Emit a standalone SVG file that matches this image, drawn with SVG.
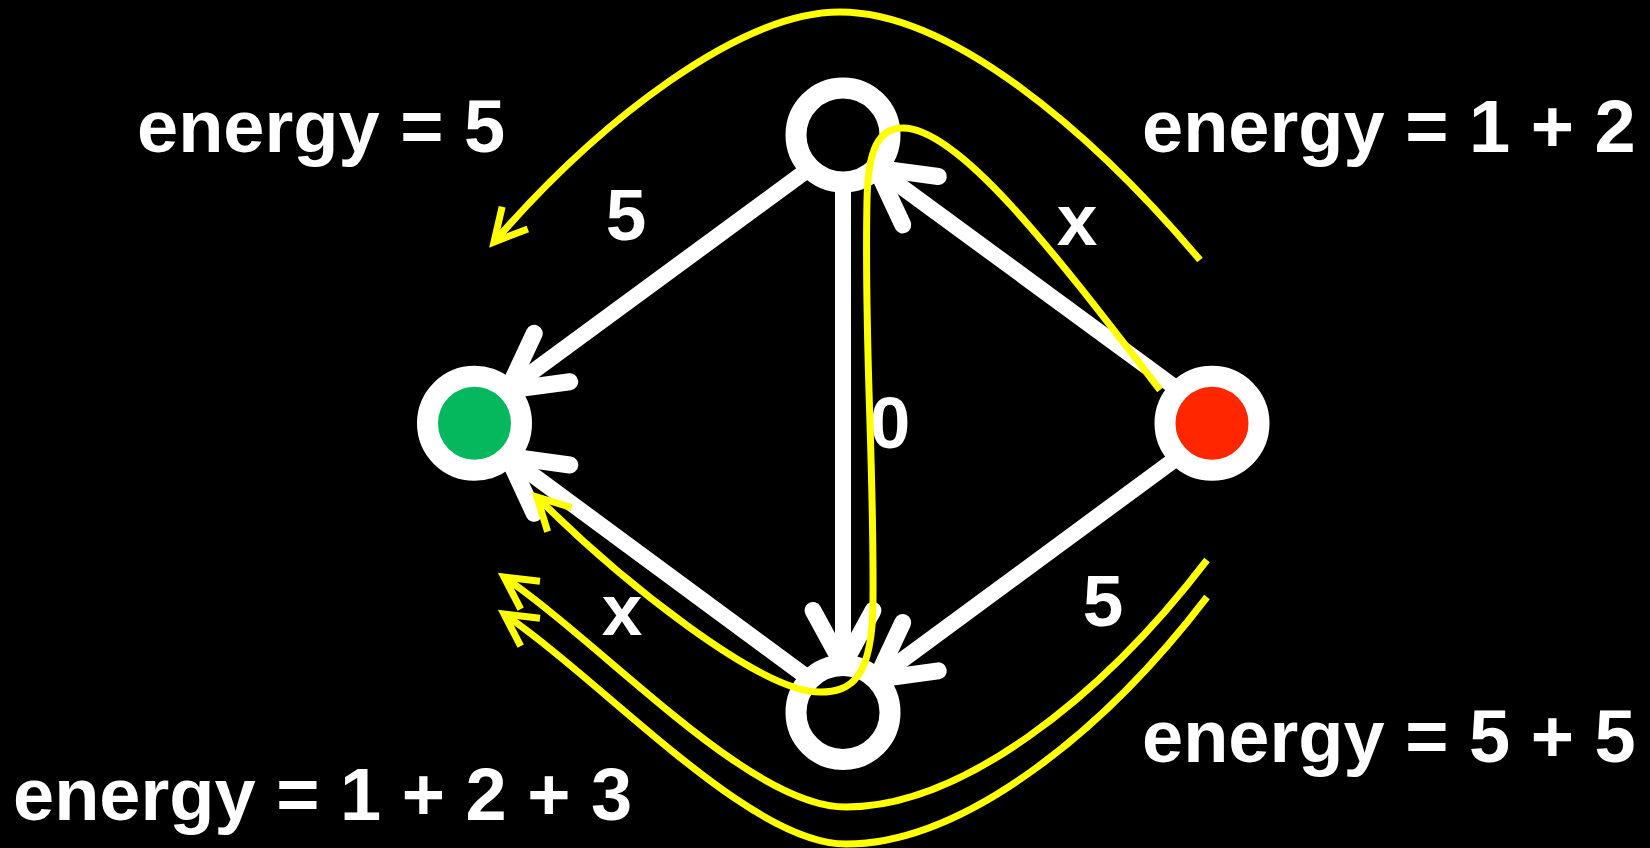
<svg xmlns="http://www.w3.org/2000/svg" width="1650" height="848" viewBox="0 0 1650 848">
<style>
.edge{fill:none;stroke:#fff;stroke-width:16;stroke-linecap:butt;marker-end:url(#wa)}
.ring{stroke:#fff;stroke-width:21}
.lbl{font-family:"Liberation Sans",Arial,sans-serif;font-weight:bold;font-size:73px;fill:#fff;text-anchor:middle}
.en{font-family:"Liberation Sans",Arial,sans-serif;font-weight:bold;font-size:74px;fill:#fff}
.yl{fill:none;stroke:#ffff00;stroke-width:7;marker-end:url(#ya)}
</style>
<defs>
<marker id="wa" markerUnits="userSpaceOnUse" viewBox="-80 -50 100 100" markerWidth="100" markerHeight="100" refX="0" refY="0" orient="auto" overflow="visible">
<path d="M-55,-30 L0,0 L-55,30" fill="none" stroke="#fff" stroke-width="17" stroke-linecap="round" stroke-linejoin="round"/>
</marker>
<marker id="ya" markerUnits="userSpaceOnUse" viewBox="-50 -30 60 60" markerWidth="60" markerHeight="60" refX="0" refY="0" orient="auto" overflow="visible">
<path d="M-32,-17 L0,0 L-32,17" fill="none" stroke="#ffff00" stroke-width="7" stroke-linejoin="miter"/>
</marker>
</defs>
<rect x="0" y="0" width="1650" height="848" fill="#000"/>
<g id="connectors">
<path class="edge" d="M809.8,168.2 L507.7,390.1"/>
<path class="edge" d="M843,182 L843,665.5"/>
<path class="edge" d="M1178.8,390.1 L876.2,168.2"/>
<path class="edge" d="M809.8,679.3 L507.7,456.5"/>
<path class="edge" d="M1178.8,456.5 L876.2,679.3"/>
</g>
<g id="node-top"><circle class="ring" cx="843" cy="135" r="47" fill="#000"/></g>
<g id="node-bottom"><circle class="ring" cx="843" cy="712.5" r="47" fill="#000"/></g>
<g id="node-left"><circle class="ring" cx="474.5" cy="423.3" r="47" fill="#05B85E"/></g>
<g id="node-right"><circle class="ring" cx="1212" cy="423.3" r="47" fill="#FF2600"/></g>
<g id="edge-labels">
<text class="lbl" x="626" y="240">5</text>
<text class="lbl" x="1077" y="245">x</text>
<text class="lbl" x="890" y="448">0</text>
<text class="lbl" x="622" y="635">x</text>
<text class="lbl" x="1103" y="626">5</text>
</g>
<g id="energy-paths">
<path class="yl" d="M1200,260 C1090,130 950,12 840,12 C740,12 600,120 494,242"/>
<path class="yl" d="M1160,390 C1060,260 960,128 903,128 C878,128 868,150 867,200 C864,350 874,450 873,600 C873,680 850,692 820,692 C760,692 620,580 537,497"/>
<path class="yl" d="M1207,560 C1100,700 960,807 846,807 C750,807 610,650 504,577"/>
<path class="yl" d="M1207,597 C1100,737 960,844 846,844 C750,844 610,687 504,614"/>
</g>
<g id="energy-labels">
<text class="en" x="137" y="152">energy = 5</text>
<text class="en" x="1142" y="152">energy = 1 + 2</text>
<text class="en" x="1142" y="762">energy = 5 + 5</text>
<text class="en" x="13" y="820">energy = 1 + 2 + 3</text>
</g>
</svg>
